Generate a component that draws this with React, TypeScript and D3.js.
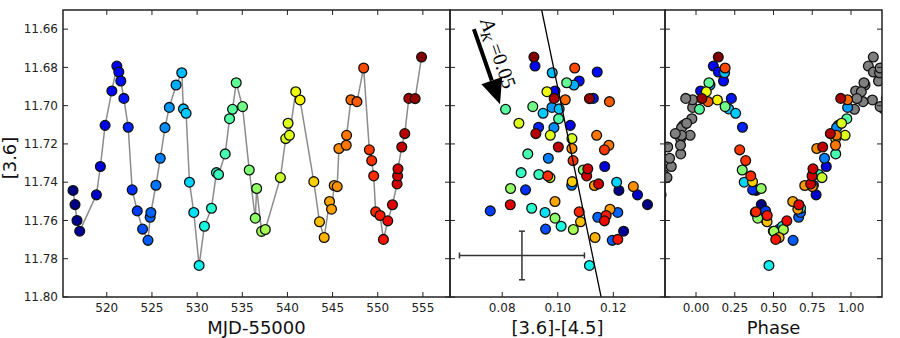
import React, { useEffect, useRef } from "react";
import * as d3 from "d3";

// observations: MJD-55000, [3.6] magnitude, [3.6]-[4.5] colour (null = no colour)
const mjd = [
  516.26, 516.48, 516.7, 517.0, 518.85, 519.29, 519.81, 520.56, 521.11, 521.33,
  521.55, 521.89, 522.37, 522.81, 523.37, 523.96, 524.56, 524.8, 524.88, 525.44,
  525.92, 526.44, 526.92, 527.67, 528.3, 528.48, 528.78, 529.15, 529.63, 530.22,
  530.81, 531.59, 532.14, 532.37, 533.11, 533.59, 533.92, 534.33, 535.03, 535.77,
  536.44, 536.59, 537.14, 537.55, 539.22, 539.81, 540.07, 540.22, 540.92, 541.4,
  542.92, 543.55, 544.07, 544.66, 544.88, 545.18, 545.51, 545.7, 546.51, 546.55,
  547.03, 547.7, 548.44, 549.07, 549.33, 549.55, 549.77, 550.26, 550.63, 551.11,
  551.63, 552.14, 552.2, 552.24, 552.66, 552.99, 553.44, 554.14, 554.85,
];
const mag = [
  11.7443, 11.7517, 11.76, 11.7656, 11.7466, 11.7318, 11.7103, 11.6923, 11.6793, 11.6824,
  11.6871, 11.6962, 11.7113, 11.744, 11.755, 11.7645, 11.7704, 11.7583, 11.7558, 11.7416,
  11.7275, 11.7115, 11.7009, 11.6892, 11.6828, 11.7017, 11.704, 11.74, 11.7558, 11.7835,
  11.763, 11.7536, 11.735, 11.736, 11.7252, 11.7068, 11.7019, 11.688, 11.7005, 11.7336,
  11.7588, 11.7433, 11.7657, 11.7647, 11.7376, 11.7172, 11.7092, 11.7155, 11.6927, 11.697,
  11.7397, 11.7607, 11.7689, 11.7501, 11.7541, 11.7417, 11.7423, 11.7224, 11.7207, 11.7155,
  11.6969, 11.6979, 11.6803, 11.7231, 11.7287, 11.7367, 11.7555, 11.7574, 11.7699, 11.7602,
  11.7518, 11.7409, 11.7367, 11.733, 11.7216, 11.7146, 11.6962, 11.6963, 11.6746,
];
const colour = [
  0.122, 0.1323, null, 0.1237, 0.1287, 0.1169, 0.1045, 0.099, 0.0918, 0.1142,
  0.1077, 0.1128, 0.0931, 0.0884, 0.0757, 0.0956, 0.1196, 0.1144, 0.1216, 0.105,
  0.0966, 0.0986, 0.0979, 0.1058, 0.098, 0.1005, 0.0947, 0.1212, 0.0954, 0.1114,
  0.1012, 0.0906, 0.0868, 0.0932, 0.0892, 0.1003, 0.0812, 0.1032, 0.091, 0.1092,
  0.099, 0.083, null, 0.1056, 0.0972, 0.1051, 0.086, 0.0973, 0.0961, null,
  0.1052, 0.1082, 0.1134, 0.099, 0.1188, 0.1132, 0.1272, 0.1051, 0.1184, 0.114,
  0.1027, 0.1186, 0.1061, 0.1168, 0.1055, 0.0964, 0.1077, 0.1174, 0.1216, 0.1168,
  0.0829, 0.1147, 0.1104, 0.1108, 0.1002, 0.0921, 0.0987, 0.1114, 0.0914,
];

const period = 6.705;
const epoch = 520.36;

const magTicks = [11.66, 11.68, 11.7, 11.72, 11.74, 11.76, 11.78, 11.8];
const mjdTicks = [520, 525, 530, 535, 540, 545, 550, 555];
const colourTicks = [0.08, 0.1, 0.12];
const phaseTicks = [0, 0.25, 0.5, 0.75, 1.0];

// extinction vector, fitted line and typical error bar in the colour panel
const reddeningX = [0.0698, 0.0792];
const reddeningY = [11.66, 11.6992];
const fitX = [0.0942, 0.1156];
const fitY = [11.65, 11.8];
const errX = [0.0871];
const errY = [11.7783];
const errXSize = [0.0225];
const errYSize = [0.0127];

// matplotlib "jet"
const jetR = d3.scaleLinear().domain([0, 0.35, 0.66, 0.89, 1]).range([0, 0, 1, 1, 0.5]).clamp(true);
const jetG = d3.scaleLinear().domain([0, 0.125, 0.375, 0.64, 0.91, 1]).range([0, 0, 1, 1, 0, 0]).clamp(true);
const jetB = d3.scaleLinear().domain([0, 0.11, 0.34, 0.65, 1]).range([0.5, 1, 1, 0, 0]).clamp(true);
const jet = (t: number) => d3.rgb(jetR(t) * 255, jetG(t) * 255, jetB(t) * 255).formatHex();

const App = () => {
  const ref = useRef<SVGSVGElement>(null);

  useEffect(() => {
    const svg = d3.select(ref.current);
    svg.selectAll("*").remove();

    const top = 10;
    const bottom = 297;
    const font = "'DejaVu Sans', sans-serif";

    const y = d3.scaleLinear().domain([11.65, 11.8]).range([top, bottom]);
    const xMjd = d3.scaleLinear().domain([515.15, 558.0]).range([63, 450]);
    const xCol = d3.scaleLinear().domain([0.0612, 0.1386]).range([450, 665]);
    const xPh = d3.scaleLinear().domain([-0.2, 1.2]).range([665, 882]);

    const tScale = d3.scaleLinear().domain(d3.extent(mjd) as [number, number]);
    const obs = mjd.map((d, i) => ({
      t: d,
      m: mag[i],
      c: colour[i],
      col: jet(tScale(d)),
      ph: ((((d - epoch) / period) % 1) + 1) % 1,
    }));

    const defs = svg.append("defs");

    const panel = (name, x, xTicks, fmt, label, yLabels) => {
      const [x0, x1] = x.range();
      defs.append("clipPath").attr("id", `clip-${name}`)
        .append("rect").attr("x", x0).attr("y", top).attr("width", x1 - x0).attr("height", bottom - top);
      const g = svg.append("g");
      const plot = g.append("g").attr("clip-path", `url(#clip-${name})`);

      // ticks inside on all four sides
      const ticks = g.append("g").attr("stroke", "#222").attr("stroke-width", 1);
      xTicks.forEach((v) => {
        ticks.append("line").attr("x1", x(v)).attr("x2", x(v)).attr("y1", bottom).attr("y2", bottom - 5);
        ticks.append("line").attr("x1", x(v)).attr("x2", x(v)).attr("y1", top).attr("y2", top + 5);
      });
      magTicks.forEach((v) => {
        ticks.append("line").attr("x1", x0).attr("x2", x0 + 5).attr("y1", y(v)).attr("y2", y(v));
        ticks.append("line").attr("x1", x1).attr("x2", x1 - 5).attr("y1", y(v)).attr("y2", y(v));
      });

      g.selectAll(".xl").data(xTicks).enter().append("text")
        .attr("x", (d) => x(d)).attr("y", 311.5)
        .attr("text-anchor", "middle").attr("font-family", font).attr("font-size", 12).attr("fill", "#222")
        .text((d) => fmt(d));

      if (yLabels) {
        g.selectAll(".yl").data(magTicks).enter().append("text")
          .attr("x", x0 - 5).attr("y", (d) => y(d)).attr("dy", "0.35em")
          .attr("text-anchor", "end").attr("font-family", font).attr("font-size", 12).attr("fill", "#222")
          .text((d) => d3.format(".2f")(d));
      }

      g.append("text").attr("x", (x0 + x1) / 2).attr("y", 334)
        .attr("text-anchor", "middle").attr("font-family", font).attr("font-size", 18).attr("fill", "#111")
        .text(label);

      return { plot, g, frame: () => g.append("rect").attr("x", x0).attr("y", top).attr("width", x1 - x0)
        .attr("height", bottom - top).attr("fill", "none").attr("stroke", "#222").attr("stroke-width", 1.5) };
    };

    const dot = (sel, r = 4.9) => sel.attr("r", r).attr("stroke", "#111").attr("stroke-width", 1.3);

    // light curve
    const lc = panel("lc", xMjd, mjdTicks, (d) => d3.format("d")(d), "MJD-55000", true);
    lc.plot.append("path").datum(obs)
      .attr("d", d3.line<any>().x((d) => xMjd(d.t)).y((d) => y(d.m)))
      .attr("fill", "none").attr("stroke", "#8c8c8c").attr("stroke-width", 1.5);
    dot(lc.plot.selectAll("circle").data(obs).enter().append("circle")
      .attr("cx", (d) => xMjd(d.t)).attr("cy", (d) => y(d.m)).attr("fill", (d) => d.col));
    lc.frame();

    // colour-magnitude
    const cc = panel("cc", xCol, colourTicks, (d) => d3.format(".2f")(d), "[3.6]-[4.5]", false);
    dot(cc.plot.selectAll("circle").data(obs.filter((d) => d.c !== null)).enter().append("circle")
      .attr("cx", (d) => xCol(d.c)).attr("cy", (d) => y(d.m)).attr("fill", (d) => d.col));
    cc.plot.append("line")
      .attr("x1", xCol(fitX[0])).attr("y1", y(fitY[0])).attr("x2", xCol(fitX[1])).attr("y2", y(fitY[1]))
      .attr("stroke", "#000").attr("stroke-width", 1.3);

    const eb = cc.plot.append("g").attr("stroke", "#333").attr("stroke-width", 1.5);
    errX.forEach((ex, i) => {
      const cx = xCol(ex), cy = y(errY[i]);
      const xa = xCol(ex - errXSize[i]), xb = xCol(ex + errXSize[i]);
      const ya = y(errY[i] - errYSize[i]), yb = y(errY[i] + errYSize[i]);
      eb.append("line").attr("x1", xa).attr("x2", xb).attr("y1", cy).attr("y2", cy);
      eb.append("line").attr("x1", cx).attr("x2", cx).attr("y1", ya).attr("y2", yb);
      [xa, xb].forEach((v) => eb.append("line").attr("x1", v).attr("x2", v).attr("y1", cy - 3).attr("y2", cy + 3));
      [ya, yb].forEach((v) => eb.append("line").attr("x1", cx - 3).attr("x2", cx + 3).attr("y1", v).attr("y2", v));
    });

    // extinction arrow
    const ax0 = xCol(reddeningX[0]), ay0 = y(reddeningY[0]);
    const ax1 = xCol(reddeningX[1]), ay1 = y(reddeningY[1]);
    const len = Math.hypot(ax1 - ax0, ay1 - ay0);
    const ux = (ax1 - ax0) / len, uy = (ay1 - ay0) / len;
    const hl = 25, hw = 11;
    const bx = ax1 - ux * hl, by = ay1 - uy * hl;
    cc.plot.append("line").attr("x1", ax0).attr("y1", ay0).attr("x2", bx).attr("y2", by)
      .attr("stroke", "#000").attr("stroke-width", 4);
    cc.plot.append("polygon")
      .attr("points", [[ax1, ay1], [bx - uy * hw, by + ux * hw], [bx + uy * hw, by - ux * hw]].map((p) => p.join(",")).join(" "))
      .attr("fill", "#000");
    const angle = (Math.atan2(ay1 - ay0, ax1 - ax0) * 180) / Math.PI;
    const lab = cc.g.append("text")
      .attr("transform", `translate(${ax0 + 6},${ay0 - 8}) rotate(${angle})`)
      .attr("font-family", "'Liberation Serif', serif").attr("font-size", 20).attr("fill", "#000");
    lab.append("tspan").attr("font-style", "italic").text("A");
    lab.append("tspan").attr("font-style", "italic").attr("font-size", 14).attr("dy", 4).text("K");
    lab.append("tspan").attr("dy", -4).text(" =0.05");
    cc.frame();

    // phased light curve, with grey repeats outside [0, 1)
    const ph = panel("ph", xPh, phaseTicks, (d) => d3.format(".2f")(d), "Phase", false);
    const repeats = [
      ...obs.filter((d) => d.ph > 0.75).map((d) => ({ ...d, ph: d.ph - 1 })),
      ...obs.filter((d) => d.ph < 0.25).map((d) => ({ ...d, ph: d.ph + 1 })),
    ];
    dot(ph.plot.selectAll(".grey").data(repeats).enter().append("circle")
      .attr("cx", (d) => xPh(d.ph)).attr("cy", (d) => y(d.m)).attr("fill", "#7f7f7f"));
    dot(ph.plot.selectAll(".col").data(obs).enter().append("circle")
      .attr("cx", (d) => xPh(d.ph)).attr("cy", (d) => y(d.m)).attr("fill", (d) => d.col));
    ph.frame();

    svg.append("text").attr("transform", "translate(16,158) rotate(-90)")
      .attr("text-anchor", "middle").attr("font-family", font).attr("font-size", 18).attr("fill", "#111")
      .text("[3.6]");
  }, []);

  return (
    <svg ref={ref} width={900} height={338}
      style={{ position: "absolute", left: 0, top: 0, background: "#fff" }} />
  );
};

export default App;
